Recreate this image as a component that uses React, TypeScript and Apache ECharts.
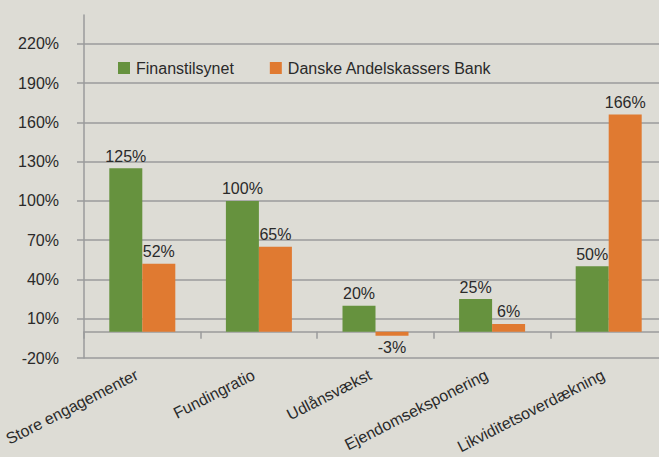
import React, { useEffect, useRef } from "react";
import * as echarts from "echarts";

const categories = [
  "Store engagementer",
  "Fundingratio",
  "Udlånsvækst",
  "Ejendomseksponering",
  "Likviditetsoverdækning",
];
const finanstilsynet = [125, 100, 20, 25, 50];
const andelskassen = [52, 65, -3, 6, 166];
const yTicks = [-20, 10, 40, 70, 100, 130, 160, 190, 220];

const FONT = "'Liberation Sans', Arial, sans-serif";
const GRID = "#9a9b9b";
const TEXT = "#2a2a2a";

export default function App() {
  const ref = useRef<HTMLDivElement>(null);
  useEffect(() => {
    if (!ref.current) return;
    const chart = echarts.init(ref.current, null, { renderer: "svg" });
    const labelFor = (v: number) => ({
      value: v,
      label: { position: v < 0 ? "bottom" : "top" },
    });
    chart.setOption({
      animation: false,
      backgroundColor: "#dddcd5",
      textStyle: { fontFamily: FONT },
      legend: {
        left: 113,
        top: 55,
        itemWidth: 12,
        itemHeight: 12,
        itemGap: 36,
        icon: "rect",
        textStyle: { fontFamily: FONT, fontSize: 16, color: TEXT, padding: [0, 0, 0, 1] },
        data: ["Finanstilsynet", "Danske Andelskassers Bank"],
      },
      grid: { left: 84, right: -8, top: 15, bottom: 99, containLabel: false, outerBoundsMode: "none" },
      xAxis: {
        type: "category",
        data: categories,
        axisLine: { onZero: true, lineStyle: { color: GRID, width: 1.5 } },
        axisTick: { show: true, alignWithLabel: false, length: 7, lineStyle: { color: GRID, width: 1.5 } },
        axisLabel: {
          rotate: 27,
          margin: 13,
          padding: [0, 6, 0, 0],
          fontSize: 16,
          color: TEXT,
          fontFamily: FONT,
          interval: 0,
        },
      },
      yAxis: {
        type: "value",
        min: yTicks[0],
        max: 242,
        interval: 30,
        axisLine: { show: true, lineStyle: { color: GRID, width: 1.5 } },
        axisTick: { show: true, length: 7, customValues: yTicks, lineStyle: { color: GRID, width: 1.5 } },
        axisLabel: {
          margin: 25,
          fontSize: 16,
          color: TEXT,
          fontFamily: FONT,
          customValues: yTicks,
          formatter: (v: number) => (yTicks.includes(v) ? v + "%" : ""),
        },
        splitLine: { show: true, lineStyle: { color: GRID, width: 1.5 } },
      },
      series: [
        {
          name: "Finanstilsynet",
          type: "bar",
          data: finanstilsynet.map(labelFor),
          barWidth: 33,
          barGap: "0%",
          itemStyle: { color: "#66923e" },
          label: {
            show: true,
            distance: 4,
            fontSize: 16,
            color: TEXT,
            fontFamily: FONT,
            formatter: (p: any) => p.value + "%",
          },
        },
        {
          name: "Danske Andelskassers Bank",
          type: "bar",
          data: andelskassen.map(labelFor),
          barWidth: 33,
          barGap: "0%",
          itemStyle: { color: "#e07a31" },
          label: {
            show: true,
            distance: 4,
            fontSize: 16,
            color: TEXT,
            fontFamily: FONT,
            formatter: (p: any) => p.value + "%",
          },
        },
      ],
    });
    return () => chart.dispose();
  }, []);
  return (
    <div
      ref={ref}
      style={{ position: "fixed", left: 0, top: 0, width: 659, height: 457 }}
    />
  );
}
